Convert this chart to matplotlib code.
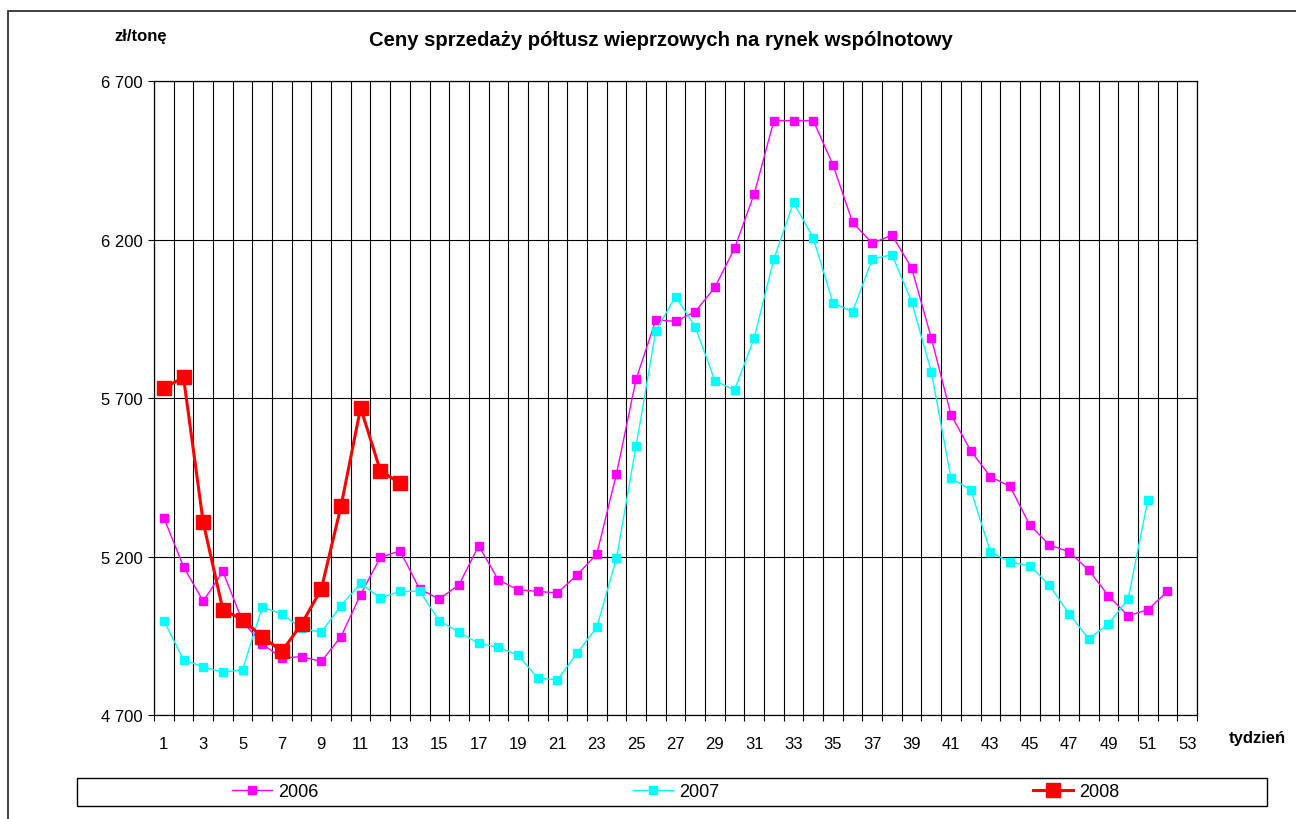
import matplotlib
matplotlib.use("Agg")
import matplotlib.pyplot as plt
from matplotlib.patches import Rectangle
from matplotlib.lines import Line2D
from matplotlib.ticker import FuncFormatter, MultipleLocator

plt.rcParams['font.family'] = ['Liberation Sans', 'DejaVu Sans']

# tygodnie i ceny (zł/tonę)
tygodnie = list(range(1, 54))
ceny_2006 = [5322, 5168, 5059, 5153, 4995, 4924, 4880, 4884, 4869, 4947,
             5080, 5197, 5218, 5097, 5066, 5111, 5234, 5126, 5095, 5090,
             5085, 5142, 5208, 5460, 5760, 5946, 5942, 5972, 6049, 6172,
             6344, 6575, 6575, 6575, 6436, 6254, 6188, 6214, 6110, 5889,
             5647, 5534, 5452, 5421, 5300, 5236, 5215, 5157, 5076, 5013,
             5032, 5090]
ceny_2007 = [4998, 4874, 4852, 4835, 4843, 5040, 5019, 4973, 4961, 5045,
             5115, 5069, 5090, 5090, 4998, 4961, 4926, 4914, 4889, 4817,
             4811, 4895, 4977, 5194, 5550, 5911, 6020, 5925, 5755, 5725,
             5889, 6139, 6317, 6205, 6000, 5972, 6139, 6152, 6004, 5782,
             5447, 5411, 5215, 5182, 5171, 5110, 5019, 4940, 4987, 5066,
             5378]
ceny_2008 = [5731, 5765, 5308, 5032, 5001, 4947, 4901, 4987, 5097, 5358,
             5669, 5471, 5431]
etykiety_x = list(range(1, 54, 2))
etykiety_y = [4700, 5200, 5700, 6200, 6700]
lata = ["2006", "2007", "2008"]

W, H = 1296, 820
fig = plt.figure(figsize=(W / 100, H / 100), dpi=100)
ax = fig.add_axes([154 / W, 1 - 716 / H, (1197 - 154) / W, (716 - 82) / H])

ax.plot(tygodnie[:len(ceny_2006)], ceny_2006, color='#FF00FF', lw=1.0,
        marker='s', ms=5.8, zorder=3)
ax.plot(tygodnie[:len(ceny_2007)], ceny_2007, color='#00FFFF', lw=1.0,
        marker='s', ms=5.8, zorder=3)
ax.plot(tygodnie[:len(ceny_2008)], ceny_2008, color='#FF0000', lw=2.2,
        marker='s', ms=9.6, zorder=4)

ax.set_xlim(0.5, 53.5)
ax.set_ylim(4700, 6700)
ax.set_xticks(etykiety_x)
ax.set_xticklabels([str(t) for t in etykiety_x])
ax.xaxis.set_minor_locator(MultipleLocator(1, offset=0.5))
ax.set_yticks(etykiety_y)
ax.yaxis.set_major_formatter(FuncFormatter(lambda v, p: f"{int(v):,}".replace(",", " ")))

ax.tick_params(axis='x', which='major', length=0, pad=15, labelsize=12)
ax.tick_params(axis='x', which='minor', length=4, width=0.8, direction='out')
ax.tick_params(axis='y', length=4, width=0.8, pad=4, labelsize=12)
ax.grid(True, axis='x', which='minor', color='black', lw=0.8)
ax.grid(True, axis='y', which='major', color='black', lw=0.8)
ax.grid(False, axis='x', which='major')
for s in ax.spines.values():
    s.set_linewidth(0.9)

fig.text(661 / W, 1 - 41 / H, "Ceny sprzedaży półtusz wieprzowych na rynek wspólnotowy",
         ha='center', va='center', fontsize=14.6, fontweight='bold')
fig.text(141 / W, 1 - 37 / H, "zł/tonę", ha='center', va='center',
         fontsize=12, fontweight='bold')
fig.text(1257 / W, 1 - 739 / H, "tydzień", ha='center', va='center',
         fontsize=12, fontweight='bold')

# ramka legendy i ramka całego wykresu
fig.add_artist(Rectangle((77 / W, 1 - 807 / H), (1267 - 77) / W, 28 / H,
                         transform=fig.transFigure, fill=False, lw=1.0, ec='black'))
fig.add_artist(Rectangle((8 / W, -0.05), 1.1, 1 - 12 / H + 0.05,
                         transform=fig.transFigure, fill=False, lw=1.3, ec='#333333'))

uchwyty = [Line2D([], [], color='#FF00FF', lw=1.0, marker='s', ms=5.8),
           Line2D([], [], color='#00FFFF', lw=1.0, marker='s', ms=5.8),
           Line2D([], [], color='#FF0000', lw=2.2, marker='s', ms=9.6)]
fig.legend(uchwyty, lata, loc='center', bbox_to_anchor=(676 / W, 1 - 793 / H),
           ncol=3, frameon=False, fontsize=13, handlelength=2.2,
           handletextpad=0.35, columnspacing=17.4)

fig.savefig("out.png", dpi=100)
